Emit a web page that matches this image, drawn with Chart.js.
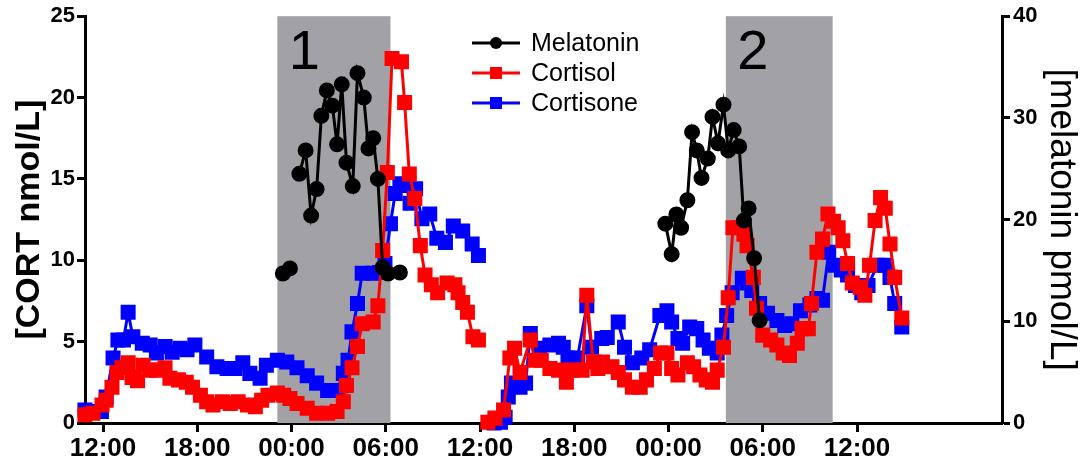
<!DOCTYPE html>
<html>
<head>
<meta charset="utf-8">
<script src="https://cdn.jsdelivr.net/npm/chart.js@4.4.1/dist/chart.umd.min.js"></script>
<style>
  html, body { margin: 0; padding: 0; background: #fff; }
</style>
</head>
<body>
<canvas id="chart" width="1080" height="463"></canvas>
<script>
// hours after 12:00 on day 1; null = gap in the series
let cortisolHours = [-1.15, -0.64, -0.06, 0.2, 0.57, 0.89, 1.2, 1.6, 1.85, 2.2, 2.55, 3.0, 3.4, 3.95, 4.26, 4.8, 5.3, 5.7, 6.2, 6.6,
  7.0, 7.6, 8.1, 8.6, 9.2, 9.7, 10.1, 10.5, 11.1, 11.5, 11.9, 12.35, 13.0, 13.6, 14.3, 14.9, 15.3, 15.5, 15.85, 16.2,
  16.5, 17.2, 17.5, 17.8, 18.1, 18.4, 19.0, 19.2, 19.5, 19.85, 20.2, 20.5, 20.9, 21.3, 21.9, 22.4, 22.6, 22.9, 23.2, 23.55,
  23.9, 24.2, 24.5, 24.95, 25.5, 25.9, 26.2, 26.55, 27.2, 27.5, 27.9, 28.45, 29.0, 29.5, 29.9, 30.5, 30.8, 31.2, 31.5, 31.8,
  32.4, 32.8, 33.2, 33.7, 34.2, 34.6, 35.1, 35.5, 35.9, 36.2, 36.6, 37.2, 37.6, 38.0, 38.4, 38.8, 39.1, 39.5, 39.8, 40.1,
  40.5, 40.8, 41.0, 41.4, 41.6, 42.0, 42.5, 42.9, 43.3, 43.7, 44.2, 44.5, 44.9, 45.1, 45.45, 45.8, 46.15, 46.5, 46.8, 47.1,
  47.4, 47.7, 48.2, 48.5, 48.8, 49.15, 49.5, 49.8, 50.1, 50.4, 50.85];
let cortisolValues = [0.5, 0.6, 1.1, 1.4, 2.2, 3.1, 3.4, 3.7, 2.8, 2.6, 3.55, 3.25, 3.25, 3.4, 2.75, 2.65, 2.5, 2.2, 1.7, 1.3,
  1.1, 1.3, 1.2, 1.3, 1.1, 1.0, 1.4, 1.7, 1.85, 1.7, 1.5, 1.2, 0.9, 0.6, 0.6, 0.7, 1.3, 2.3, 3.4, 4.7,
  6.1, 6.2, 7.2, 10.6, 15.4, 22.4, 22.2, 19.7, 15.3, 13.8, 10.9, 9.1, 8.5, 8.0, 8.6, 8.5, 8.0, 7.4, 6.8, 5.3,
  5.1, null, 0.05, 0.3, 0.8, 4.0, 4.6, 3.1, 5.1, 3.85, 3.85, 3.35, 3.25, 2.5, 3.25, 3.25, 7.85, 3.75, 3.35, 3.75,
  3.45, 3.1, 2.65, 2.2, 2.2, 2.65, 3.35, 4.3, 4.3, 3.35, 2.95, 3.7, 3.45, 2.95, 2.65, 2.5, 3.25, 4.65, 7.7, 12.0,
  12.0, 11.6, 10.9, 8.95, 7.05, 5.4, 5.1, 4.8, 4.3, 4.15, 4.9, 5.8, 5.8, 7.35, 10.5, 11.3, 12.85, 12.4, 12.0, 11.2,
  9.8, 8.6, 8.35, 7.85, 9.7, 12.45, 13.85, 13.2, 11.0, 8.95, 6.45];

let cortisoneHours = [-1.15, -0.64, -0.1, 0.2, 0.64, 0.95, 1.3, 1.6, 1.9, 2.5, 3.0, 3.4, 3.95, 4.4, 4.9, 5.35, 5.85, 6.6, 7.25, 7.9,
  8.4, 8.9, 9.35, 10.0, 10.4, 11.1, 11.7, 12.35, 13.0, 13.6, 14.3, 14.9, 15.3, 15.6, 15.85, 16.2, 16.5, 17.2, 17.6, 17.95,
  18.3, 18.6, 18.9, 19.3, 19.55, 19.9, 20.3, 20.8, 21.25, 21.8, 22.3, 22.9, 23.5, 23.9, 24.2, 24.9, 25.3, 25.6, 25.8, 26.0,
  26.55, 26.9, 27.2, 27.8, 28.45, 29.0, 29.3, 29.6, 30.2, 30.8, 31.1, 31.75, 32.1, 32.8, 33.2, 33.7, 34.3, 34.8, 35.45, 35.9,
  36.2, 36.6, 36.9, 37.35, 37.8, 38.2, 38.6, 39.1, 39.4, 39.7, 40.05, 40.7, 41.0, 41.3, 41.8, 42.3, 42.9, 43.4, 43.85, 44.4,
  45.0, 45.45, 45.8, 46.2, 46.6, 47.0, 47.4, 47.9, 48.3, 48.7, 49.3, 49.8, 50.1, 50.4, 50.85];
let cortisoneValues = [0.8, 0.7, 0.7, 1.6, 4.0, 5.1, 5.1, 6.8, 5.3, 4.9, 4.8, 4.3, 4.7, 4.35, 4.6, 4.5, 4.8, 4.05, 3.45, 3.35,
  3.35, 3.7, 3.05, 2.75, 3.55, 3.85, 3.75, 3.4, 2.9, 2.45, 2.0, 2.0, 3.05, 3.85, 5.6, 7.35, 9.2, 9.2, 9.25, 9.8,
  12.25, 14.1, 14.7, 14.6, 13.5, 14.4, 12.55, 12.85, 11.35, 11.1, 12.1, 11.8, 11.0, 10.3, null, 0.0, 0.05, 0.35, 1.6, 2.45,
  2.2, 2.45, 5.5, 4.6, 4.8, 4.9, 4.65, 4.0, 4.0, 7.2, 4.65, 5.2, 5.25, 6.2, 4.65, 3.7, 4.0, 4.5, 6.6, 6.9,
  6.2, 5.2, 4.9, 5.9, 5.8, 5.1, 4.6, 4.3, 5.4, 6.6, 8.0, 8.9, 8.6, 8.15, 7.35, 6.75, 6.3, 6.0, 6.1, 6.9,
  7.25, 7.65, 7.55, 10.5, 9.7, 9.4, 9.1, 8.45, 8.0, 8.45, 9.7, 9.7, 8.95, 7.35, 5.9];

let melatoninHours = [11.45, 11.9, 12.2, 12.5, 12.9, 13.25, 13.6, 13.9, 14.25, 14.6, 14.9, 15.2, 15.5, 15.9, 16.2, 16.6, 16.9, 17.2, 17.5, 17.8,
  18.15, 18.9, 27.0, 35.8, 36.2, 36.5, 36.8, 37.2, 37.5, 37.8, 38.1, 38.5, 38.8, 39.15, 39.5, 39.8, 40.15, 40.5, 40.8, 41.1,
  41.45, 41.8];
let melatoninValues = [14.7, 15.2, null, 24.5, 26.8, 20.4, 23.0, 30.2, 32.7, 31.2, 27.4, 33.3, 25.6, 23.3, 34.4, 32.0, 27.0, 28.0, 24.0, 15.3,
  14.7, 14.8, null, 19.6, 16.6, 20.5, 19.2, 21.9, 28.6, 26.8, 24.1, 26.0, 30.1, 27.5, 31.3, 26.8, 28.8, 27.2, 19.9, 21.1,
  16.2, 10.1];

// dark periods (hours after 12:00 day 1)
let bandStarts = [11.1, 39.65];
let bandEnds = [18.3, 46.45];
let bandLabels = ["1", "2"];

let xTickHours = [0, 6, 12, 18, 24, 30, 36, 42, 48];

function toPoints(hours, values) {
  return hours.map((h, i) => ({ x: h, y: values[i] }));
}

function hourLabel(h) {
  let hh = (12 + h) % 24;
  return (hh < 10 ? "0" : "") + hh + ":00";
}

// **Grey shaded night periods with their numbers**
const bandPlugin = {
  id: "bands",
  beforeDatasetsDraw(chart) {
    let ctx = chart.ctx;
    let area = chart.chartArea;
    let xs = chart.scales.x;
    ctx.save();
    for (let i = 0; i < bandStarts.length; i++) {
      let x0 = xs.getPixelForValue(bandStarts[i]);
      let x1 = xs.getPixelForValue(bandEnds[i]);
      ctx.fillStyle = "#a2a2a6";
      ctx.fillRect(x0, area.top, x1 - x0, area.bottom - area.top);
      ctx.fillStyle = "#000";
      ctx.font = "56px 'Liberation Sans', Arial, sans-serif";
      ctx.textAlign = "center";
      ctx.textBaseline = "alphabetic";
      ctx.fillText(bandLabels[i], x0 + 27, area.top + 53);
    }
    ctx.restore();
  }
};

// **Legend drawn as line + marker like the original**
const legendPlugin = {
  id: "lineLegend",
  afterDatasetsDraw(chart) {
    let ctx = chart.ctx;
    ctx.save();
    chart.data.datasets.forEach((ds, i) => {
      let y = 43 + i * 30;
      ctx.strokeStyle = ds.borderColor;
      ctx.lineWidth = 3;
      ctx.beginPath();
      ctx.moveTo(472, y);
      ctx.lineTo(520, y);
      ctx.stroke();
      ctx.fillStyle = ds.borderColor;
      if (ds.pointStyle === "circle") {
        ctx.beginPath();
        ctx.arc(496, y, 6, 0, Math.PI * 2);
        ctx.fill();
      } else {
        ctx.fillRect(490, y - 6, 12, 12);
      }
      ctx.fillStyle = "#000";
      ctx.font = "25px 'Liberation Sans', Arial, sans-serif";
      ctx.textAlign = "left";
      ctx.textBaseline = "middle";
      ctx.fillText(ds.label, 531, y + 1);
    });
    ctx.restore();
  }
};

const tickFont = { family: "'Liberation Sans', Arial, sans-serif", size: 22, weight: "bold" };

new Chart(document.getElementById("chart").getContext("2d"), {
  type: "line",
  data: {
    datasets: [
      {
        label: "Melatonin",
        data: toPoints(melatoninHours, melatoninValues),
        yAxisID: "y2",
        borderColor: "#000000",
        backgroundColor: "#000000",
        pointStyle: "circle",
        pointRadius: 6.5,
        borderWidth: 3,
        tension: 0,
        clip: false
      },
      {
        label: "Cortisol",
        data: toPoints(cortisolHours, cortisolValues),
        yAxisID: "y",
        borderColor: "#ff0000",
        backgroundColor: "#ff0000",
        pointStyle: "rect",
        pointRadius: 8.5,
        borderWidth: 3,
        tension: 0,
        clip: false
      },
      {
        label: "Cortisone",
        data: toPoints(cortisoneHours, cortisoneValues),
        yAxisID: "y",
        borderColor: "#0000ff",
        backgroundColor: "#0000ff",
        pointStyle: "rect",
        pointRadius: 8.5,
        borderWidth: 3,
        tension: 0,
        clip: false
      }
    ]
  },
  options: {
    responsive: false,
    animation: false,
    devicePixelRatio: 1,
    layout: { padding: { top: 15, left: 0, right: 0, bottom: 0 } },
    plugins: {
      legend: { display: false },
      tooltip: { enabled: false }
    },
    elements: { point: { borderWidth: 0 } },
    scales: {
      x: {
        type: "linear",
        min: -1.146,
        max: 57.23,
        afterBuildTicks: (scale) => { scale.ticks = xTickHours.map(v => ({ value: v })); },
        afterFit: (scale) => { scale.height = 40; },
        border: { color: "#000", width: 3 },
        grid: { drawOnChartArea: false, tickLength: 9, tickWidth: 3, tickColor: "#000" },
        ticks: {
          color: "#000",
          font: { family: "'Liberation Sans', Arial, sans-serif", size: 26, weight: "bold" },
          padding: 1,
          maxRotation: 0,
          autoSkip: false,
          callback: (v) => hourLabel(v)
        }
      },
      y: {
        position: "left",
        min: 0,
        max: 25,
        afterFit: (scale) => { scale.width = 85; },
        border: { color: "#000", width: 3 },
        grid: { drawOnChartArea: false, tickLength: 8, tickWidth: 3, tickColor: "#000" },
        ticks: { stepSize: 5, color: "#000", font: tickFont, padding: 2 },
        title: {
          display: true,
          text: "[CORT nmol/L]",
          color: "#000",
          font: { family: "'Liberation Sans', Arial, sans-serif", size: 34, weight: "bold", lineHeight: 1 },
          padding: { top: 13, bottom: 0 }
        }
      },
      y2: {
        position: "right",
        min: 0,
        max: 40,
        afterFit: (scale) => { scale.width = 78; },
        border: { color: "#000", width: 3 },
        grid: { drawOnChartArea: false, tickLength: 8, tickWidth: 3, tickColor: "#000" },
        ticks: { stepSize: 10, color: "#000", font: tickFont, padding: 3 },
        title: {
          display: true,
          text: "[melatonin pmol/L]",
          color: "#000",
          font: { family: "'Liberation Sans', Arial, sans-serif", size: 37, lineHeight: 1 },
          padding: { top: 0, bottom: 0 }
        }
      }
    }
  },
  plugins: [bandPlugin, legendPlugin]
});
</script>
</body>
</html>
